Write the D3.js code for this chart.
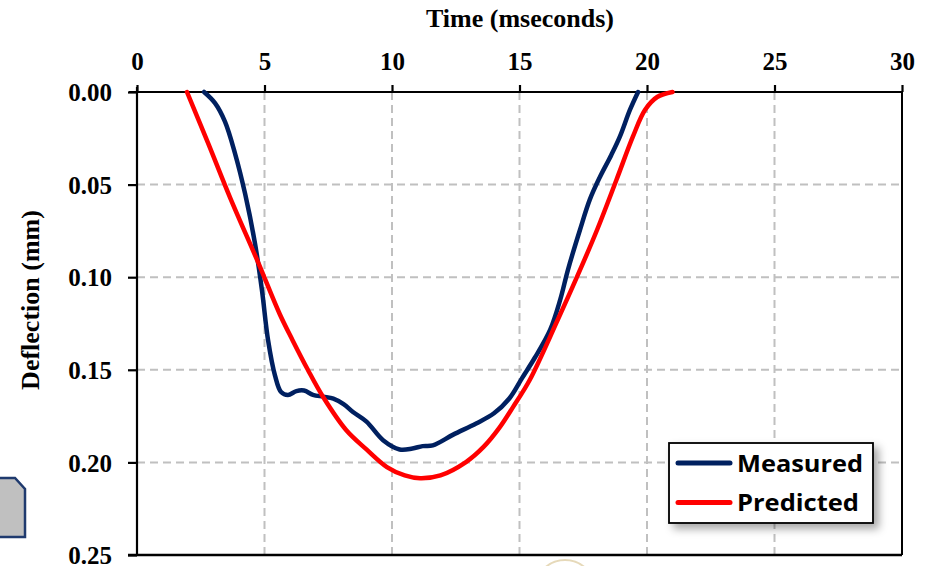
<!DOCTYPE html>
<html>
<head>
<meta charset="utf-8">
<script src="https://cdn.jsdelivr.net/npm/d3@7"></script>
<style>
  html, body { margin: 0; padding: 0; background: #fff; }
  svg { display: block; }
  .tick-label { font-family: "Liberation Serif", "Times New Roman", serif; font-weight: bold; font-size: 25px; fill: #000; }
  .axis-title { font-family: "Liberation Serif", "Times New Roman", serif; font-weight: bold; font-size: 26px; fill: #000; }
  .legend-text { font-family: "Open Sans", Lato, sans-serif; font-weight: bold; font-size: 24px; fill: #000; }
</style>
</head>
<body>
<svg id="chart" width="935" height="566"></svg>
<script>
// Measured vs predicted deflection over time
const measuredTime = [2.63, 3.06, 3.45, 3.84, 4.24, 4.63, 4.9, 5.14, 5.41, 5.65, 5.92, 6.25, 6.55, 6.9, 7.3, 7.7, 8.1, 8.47, 9.0, 9.65, 10.3, 10.8, 11.2, 11.6, 12.4, 13.3, 14.0, 14.6, 15.1, 15.6, 16.2, 16.6, 16.9, 17.37, 17.76, 18.15, 18.6, 18.94, 19.33, 19.65];
const measuredDefl = [0, 0.006, 0.016, 0.033, 0.055, 0.082, 0.107, 0.134, 0.153, 0.162, 0.1636, 0.1615, 0.1612, 0.1635, 0.1645, 0.1655, 0.1685, 0.1728, 0.178, 0.188, 0.193, 0.1925, 0.1912, 0.1908, 0.185, 0.179, 0.1735, 0.1655, 0.1545, 0.1435, 0.1285, 0.112, 0.096, 0.0745, 0.058, 0.046, 0.034, 0.024, 0.0097, 0];

const predictedTime = [1.96, 2.8, 3.65, 4.75, 5.6, 6.1, 6.7, 7.3, 8.2, 9.0, 9.8, 10.5, 11.1, 11.9, 12.9, 13.6, 14.2, 14.75, 15.4, 16.5, 17.25, 18.04, 18.8, 19.45, 19.92, 20.4, 21.0];
const predictedDefl = [0, 0.028, 0.057, 0.092, 0.12, 0.134, 0.15, 0.1647, 0.1825, 0.193, 0.2025, 0.207, 0.2085, 0.207, 0.1998, 0.1915, 0.1815, 0.17, 0.1555, 0.123, 0.1, 0.0745, 0.0475, 0.024, 0.0097, 0.0027, 0];

const xTicks = [0, 5, 10, 15, 20, 25, 30];
const yTicks = [0, 0.05, 0.10, 0.15, 0.20, 0.25];
const seriesNames = ["Measured", "Predicted"];
const seriesColors = ["#002060", "#ff0000"];

(() => {
  const svg = d3.select("#chart");
  const plotL = 137, plotR = 902, plotT = 92, plotB = 555;

  const x = d3.scaleLinear().domain([0, 30]).range([plotL, plotR]);
  const y = d3.scaleLinear().domain([0, 0.25]).range([plotT, plotB]);

  // decorative shape at bottom left (cropped from page)
  svg.append("path")
    .attr("d", "M-2,478 L15,478 L25,489 L25,537 L-2,537 Z")
    .attr("fill", "#c0c0c0")
    .attr("stroke", "#1f3a6e")
    .attr("stroke-width", 2.5);

  // faint seal under the chart
  svg.append("circle")
    .attr("cx", 565).attr("cy", 590).attr("r", 30)
    .attr("fill", "none").attr("stroke", "#e0cfa8").attr("stroke-width", 2).attr("opacity", 0.8);

  // grid
  const grid = svg.append("g");
  grid.selectAll("line.vx")
    .data(xTicks.filter(d => d > 0 && d < 30))
    .join("line")
    .attr("x1", d => x(d)).attr("x2", d => x(d))
    .attr("y1", plotT).attr("y2", plotB)
    .attr("stroke", "#c0c0c0").attr("stroke-width", 2).attr("stroke-dasharray", "8,5");
  grid.selectAll("line.hy")
    .data(yTicks.filter(d => d > 0 && d < 0.25))
    .join("line")
    .attr("x1", plotL).attr("x2", plotR)
    .attr("y1", d => y(d)).attr("y2", d => y(d))
    .attr("stroke", "#c0c0c0").attr("stroke-width", 2).attr("stroke-dasharray", "8,5");

  // axes
  const xAxis = svg.append("g")
    .attr("transform", `translate(0,${plotT})`)
    .call(d3.axisTop(x).tickValues(xTicks).tickSize(7).tickPadding(15).tickFormat(d3.format("d")));
  const yAxis = svg.append("g")
    .attr("transform", `translate(${plotL},0)`)
    .call(d3.axisLeft(y).tickValues(yTicks).tickSize(9).tickPadding(16).tickFormat(d3.format(".2f")));

  [xAxis, yAxis].forEach(g => {
    g.attr("font-size", null).attr("font-family", null);
    g.select(".domain").attr("stroke", "#000").attr("stroke-width", 2.2);
    g.selectAll(".tick line").attr("stroke", "#000").attr("stroke-width", 2.2);
    g.selectAll(".tick text").attr("class", "tick-label");
  });
  xAxis.select(".domain").attr("d", `M${plotL - 8},0H${plotR}`);
  yAxis.select(".domain").attr("d", `M0,${plotT - 5}V${plotB}`);
  yAxis.selectAll(".tick text").attr("dy", "0.35em");

  // frame right & bottom
  svg.append("line").attr("x1", plotR).attr("x2", plotR).attr("y1", plotT).attr("y2", plotB)
    .attr("stroke", "#000").attr("stroke-width", 2);
  svg.append("line").attr("x1", plotL - 9).attr("x2", plotR).attr("y1", plotB).attr("y2", plotB)
    .attr("stroke", "#000").attr("stroke-width", 2.5);

  // axis titles
  svg.append("text").attr("class", "axis-title")
    .attr("x", 520).attr("y", 27).attr("text-anchor", "middle")
    .text("Time (mseconds)");
  svg.append("text").attr("class", "axis-title")
    .attr("transform", `translate(39,300) rotate(-90)`)
    .attr("text-anchor", "middle")
    .text("Deflection (mm)");

  // lines
  const line = d3.line()
    .x(d => x(d[0]))
    .y(d => y(d[1]))
    .curve(d3.curveCatmullRom.alpha(0.5));

  const series = [
    d3.zip(measuredTime, measuredDefl),
    d3.zip(predictedTime, predictedDefl)
  ];

  svg.append("g").selectAll("path")
    .data(series)
    .join("path")
    .attr("d", line)
    .attr("fill", "none")
    .attr("stroke", (d, i) => seriesColors[i])
    .attr("stroke-width", 4.5)
    .attr("stroke-linejoin", "round")
    .attr("stroke-linecap", "round");

  // legend
  const defs = svg.append("defs");
  const shadow = defs.append("filter").attr("id", "shadow")
    .attr("x", "-10%").attr("y", "-20%").attr("width", "130%").attr("height", "150%");
  shadow.append("feDropShadow")
    .attr("dx", 5).attr("dy", 5).attr("stdDeviation", 4)
    .attr("flood-color", "#000").attr("flood-opacity", 0.35);

  const legend = svg.append("g").attr("transform", "translate(669,443)");
  legend.append("rect")
    .attr("width", 204).attr("height", 80)
    .attr("fill", "#fff").attr("stroke", "#000").attr("stroke-width", 1.8)
    .attr("filter", "url(#shadow)");

  const rows = legend.selectAll("g.row")
    .data(seriesNames)
    .join("g")
    .attr("transform", (d, i) => `translate(0,${20 + i * 39.5})`);
  rows.append("line")
    .attr("x1", 9).attr("x2", 61)
    .attr("stroke", (d, i) => seriesColors[i])
    .attr("stroke-width", 5).attr("stroke-linecap", "round");
  rows.append("text")
    .attr("class", "legend-text")
    .attr("x", 68).attr("y", 8.5)
    .attr("textLength", (d, i) => i === 0 ? 126 : 122)
    .attr("lengthAdjust", "spacingAndGlyphs")
    .text(d => d);
})();
</script>
</body>
</html>
